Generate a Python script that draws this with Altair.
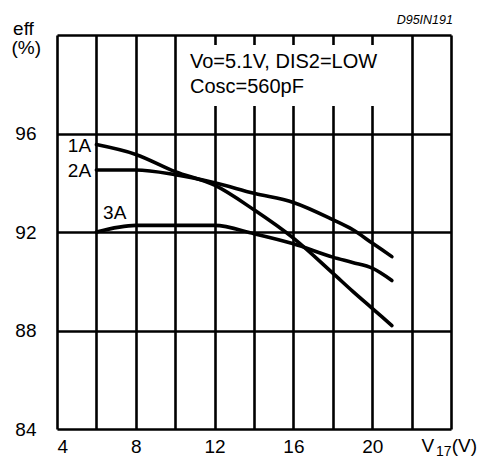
import altair as alt
import pandas as pd

# Curve data (input voltage V17, efficiency %)
volts = [6, 8, 10, 12, 14, 16, 18, 19, 20, 21]
eff_1a = [95.55, 95.15, 94.45, 93.9, 92.9, 91.75, 90.33, 89.6, 88.9, 88.2]
eff_2a = [94.52, 94.52, 94.33, 94.0, 93.57, 93.2, 92.5, 92.1, 91.55, 91.0]
eff_3a = [92.0, 92.27, 92.27, 92.27, 91.93, 91.52, 90.98, 90.76, 90.53, 90.03]
series_names = ["1A", "2A", "3A"]

# Axis ticks / labels
x_grid = list(range(4, 25, 2))
x_labels = [4, 8, 12, 16, 20]
y_grid = [84, 88, 92, 96, 100]
y_labels = [84, 88, 92, 96]

# Annotation box (data units)
box_x = [10.12]
box_x2 = [21.88]
box_y = [97.12]
box_y2 = [99.59]

# Left-aligned texts
lt_text = ["Vo=5.1V, DIS2=LOW", "Cosc=560pF", "3A", "eff", "(%)", "V", "17", "(V)"]
lt_x = [10.75, 10.75, 6.34, 1.77, 1.69, 22.50, 23.24, 24.04]
lt_y = [98.66, 97.64, 92.53, 100.0, 99.22, 83.07, 82.92, 83.07]
lt_size = [20, 20, 19, 19, 19, 19, 14, 19]

# Right-aligned series labels
rt_text = ["1A", "2A"]
rt_x = [5.73, 5.73]
rt_y = [95.25, 94.23]

# Figure code
code_text = ["D95IN191"]
code_x = [24.10]
code_y = [100.45]

rows = []
for name, vals in zip(series_names, [eff_1a, eff_2a, eff_3a]):
    for v, e in zip(volts, vals):
        rows.append({"series": name, "v": v, "eff": e})
curves = pd.DataFrame(rows)

xs = alt.Scale(domain=[4, 24], nice=False, zero=False)
ys = alt.Scale(domain=[84, 100], nice=False, zero=False)

x_label_expr = "indexof([" + ",".join(str(v) for v in x_labels) + "], datum.value) >= 0 ? datum.label : ''"
y_label_expr = "indexof([" + ",".join(str(v) for v in y_labels) + "], datum.value) >= 0 ? datum.label : ''"

x_axis = alt.Axis(
    values=x_grid, grid=True, gridColor="black", gridWidth=2.6, gridOpacity=1,
    domain=False, ticks=False, labelFontSize=19, labelColor="black",
    labelPadding=8, title=None, labelFont="Liberation Sans",
    labelOverlap=False, labelExpr=x_label_expr,
)
y_axis = alt.Axis(
    values=y_grid, grid=True, gridColor="black", gridWidth=2.6, gridOpacity=1,
    domain=False, ticks=False, labelFontSize=19, labelColor="black",
    labelPadding=21, title=None, labelFont="Liberation Sans",
    labelOverlap=False, labelExpr=y_label_expr,
)

X = lambda f: alt.X(f, scale=xs, axis=x_axis)
Y = lambda f: alt.Y(f, scale=ys, axis=y_axis)

lines = alt.Chart(curves).mark_line(
    color="black", strokeWidth=3.6, interpolate="monotone", strokeCap="round"
).encode(
    x=X("v:Q"),
    y=Y("eff:Q"),
    detail="series:N",
)

box = alt.Chart(pd.DataFrame({"x": box_x, "x2": box_x2, "y": box_y, "y2": box_y2})).mark_rect(
    color="white"
).encode(
    x=X("x:Q"), x2="x2:Q",
    y=Y("y:Q"), y2="y2:Q",
)

left_texts = alt.Chart(pd.DataFrame({"t": lt_text, "x": lt_x, "y": lt_y, "s": lt_size})).mark_text(
    align="left", baseline="alphabetic", color="black", font="Liberation Sans"
).encode(
    x=X("x:Q"), y=Y("y:Q"),
    text="t:N", size=alt.Size("s:Q", scale=None, legend=None),
)

right_texts = alt.Chart(pd.DataFrame({"t": rt_text, "x": rt_x, "y": rt_y})).mark_text(
    align="right", baseline="alphabetic", color="black", font="Liberation Sans", fontSize=19
).encode(
    x=X("x:Q"), y=Y("y:Q"), text="t:N",
)

code = alt.Chart(pd.DataFrame({"t": code_text, "x": code_x, "y": code_y})).mark_text(
    align="right", baseline="alphabetic", color="black", font="Liberation Sans",
    fontSize=12.5, fontStyle="italic"
).encode(
    x=X("x:Q"), y=Y("y:Q"), text="t:N",
)

chart = alt.layer(lines, box, left_texts, right_texts, code).properties(
    width=394, height=394,
    autosize="none",
    padding={"left": 57, "top": 35, "right": 28, "bottom": 29},
    background="white",
).configure_view(
    stroke="black", strokeWidth=2.6
).configure(font="Liberation Sans")

chart.save("out.html", embed_options={"renderer": "svg", "actions": False})
